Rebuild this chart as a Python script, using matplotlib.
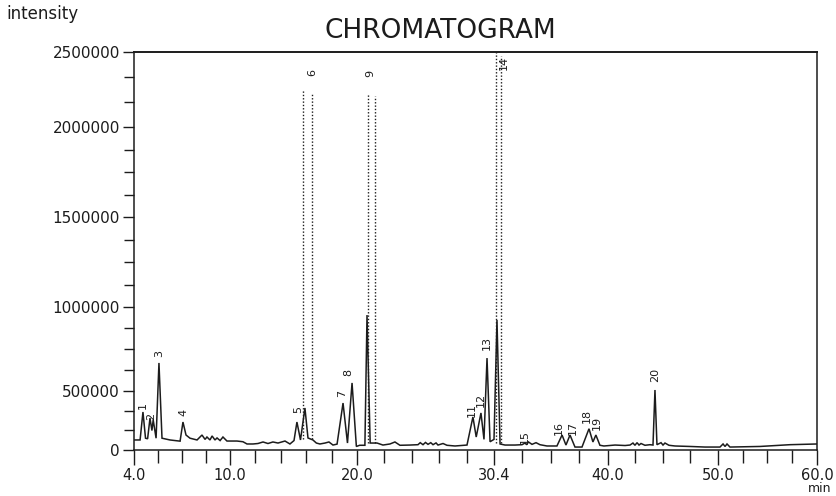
#!/usr/bin/env python3
"""Hand-drawn style chromatogram, intensity vs retention time."""

import numpy as np
import matplotlib
matplotlib.use("Agg")
import matplotlib.pyplot as plt

plt.rcParams["font.family"] = ["DejaVu Sans"]

INK = "#1c1c1c"

# ── axis calibration (the drawn axes are not evenly spaced) ─────────────
X_MAJOR = [4.0, 10.0, 20.0, 30.4, 40.0, 50.0, 60.0]
X_MAJOR_LABELS = ["4.0", "10.0", "20.0", "30.4", "40.0", "50.0", "60.0"]
X_MAJOR_POS = [134, 230, 357, 494, 608, 718, 817]
X_MINOR_SPLITS = [4, 5, 5, 4, 4, 4]

Y_MAJOR = [0, 500000, 1000000, 1500000, 2000000, 2500000]
Y_MAJOR_LABELS = ["0", "500000", "1000000", "1500000", "2000000", "2500000"]
Y_MAJOR_POS = [0, 59, 143, 233, 323, 398]
Y_MINOR_SPLITS = [3, 4, 4, 4, 3]

# ── trace (min, intensity) ──────────────────────────────────────────────
TRACE_MIN = [
    4.05, 4.38, 4.56, 4.72, 4.85, 5.0, 5.12, 5.2, 5.38, 5.56, 5.75, 6.25,
    6.88, 7.06, 7.25, 7.5, 7.94, 8.25, 8.44, 8.56, 8.75, 8.88, 9.06, 9.19,
    9.38, 9.56, 9.81, 10.55, 11.02, 11.34, 11.81, 12.2, 12.6, 12.99, 13.38,
    13.78, 14.33, 14.72, 15.04, 15.27, 15.55, 15.9, 16.14, 16.53, 16.8,
    17.08, 17.48, 17.79, 18.11, 18.43, 18.9, 19.25, 19.61, 19.95, 20.2,
    20.6, 20.76, 21.0, 21.52, 21.97, 22.5, 22.88, 23.26, 24.02, 24.63,
    24.8, 25.01, 25.2, 25.39, 25.6, 25.77, 26.0, 26.15, 26.53, 26.83,
    27.44, 28.35, 28.8, 29.05, 29.41, 29.64, 29.87, 30.1, 30.4, 30.65,
    30.91, 31.33, 32.17, 32.76, 33.01, 33.15, 33.3, 33.6, 33.94, 34.27,
    34.86, 35.7, 36.13, 36.46, 36.8, 37.22, 37.81, 38.4, 38.73, 38.98,
    39.32, 39.66, 40.64, 41.55, 42.0, 42.27, 42.45, 42.64, 42.82, 43.0,
    43.36, 43.82, 44.09, 44.27, 44.45, 44.82, 45.0, 45.18, 45.54, 46.09,
    47.45, 48.82, 50.2, 50.51, 50.71, 50.91, 51.21, 54.24, 57.27, 60.0,
]
TRACE_INT = [
    85000, 85000, 322000, 100000, 95000, 270000, 165000, 255000, 100000,
    667000, 100000, 85000, 75000, 237000, 127000, 100000, 85000, 127000,
    90000, 110000, 85000, 119000, 85000, 102000, 80000, 110000, 76000,
    76000, 70000, 51000, 51000, 55000, 68000, 55000, 68000, 59000, 76000,
    51000, 80000, 237000, 85000, 356000, 102000, 85000, 59000, 51000,
    59000, 68000, 42000, 50000, 398000, 59000, 548000, 30000, 40000,
    40000, 952000, 59000, 59000, 42000, 51000, 68000, 40000, 42000, 45000,
    62000, 45000, 64000, 48000, 62000, 45000, 60000, 42000, 55000, 40000,
    34000, 42000, 280000, 110000, 314000, 90000, 696000, 70000, 90000,
    923000, 51000, 42000, 42000, 45000, 59000, 45000, 68000, 48000, 62000,
    45000, 34000, 34000, 127000, 42000, 127000, 25000, 25000, 180000,
    68000, 127000, 40000, 34000, 42000, 38000, 42000, 59000, 40000, 62000,
    42000, 55000, 40000, 45000, 42000, 506000, 45000, 62000, 42000, 59000,
    40000, 34000, 30000, 25000, 25000, 51000, 30000, 51000, 25000, 30000,
    45000, 51000,
]

# peaks that run off the paper, drawn as dotted outlines
TALL_LEFT = [15.75, 20.83, 30.57]
TALL_RIGHT = [16.46, 21.37, 30.99]
TALL_BASE = [90000, 60000, 60000]
TALL_TOP = [2250000, 2230000, 2500000]

PEAK_LABELS = ["1", "2", "3", "4", "5", "6", "7", "8", "9", "11", "12",
               "13", "14", "15", "16", "17", "18", "19", "20"]
PEAK_LABEL_MIN = [4.56, 5.05, 5.56, 7.06, 15.35, 16.45, 18.82, 19.29, 20.99,
                  28.73, 29.41, 29.87, 31.2, 33.01, 35.85, 37.0, 38.25,
                  39.02, 44.27]
PEAK_LABEL_INT = [381000, 285000, 726000, 322000, 339000, 2360000, 483000,
                  613000, 2360000, 339000, 424000, 786000, 2430000, 110000,
                  186000, 186000, 285000, 232000, 595000]


def piecewise(src, dst):
    src = np.asarray(src, float)
    dst = np.asarray(dst, float)
    lo_slope = (dst[1] - dst[0]) / (src[1] - src[0])
    hi_slope = (dst[-1] - dst[-2]) / (src[-1] - src[-2])

    def f(v):
        v = np.asarray(v, float)
        out = np.interp(v, src, dst)
        out = np.where(v < src[0], dst[0] + (v - src[0]) * lo_slope, out)
        out = np.where(v > src[-1], dst[-1] + (v - src[-1]) * hi_slope, out)
        return out
    return f


def minor_ticks(major, splits):
    ticks = []
    for a, b, n in zip(major[:-1], major[1:], splits):
        ticks.extend(np.linspace(a, b, n + 1)[1:-1])
    return ticks


fig = plt.figure(figsize=(8.37, 4.96), dpi=100)
ax = fig.add_axes([134 / 837, 46 / 496, 683 / 837, 398 / 496])

ax.set_xscale("function", functions=(piecewise(X_MAJOR, X_MAJOR_POS),
                                     piecewise(X_MAJOR_POS, X_MAJOR)))
ax.set_yscale("function", functions=(piecewise(Y_MAJOR, Y_MAJOR_POS),
                                     piecewise(Y_MAJOR_POS, Y_MAJOR)))

ax.plot(TRACE_MIN, TRACE_INT, color=INK, lw=1.1, solid_joinstyle="miter")

for l, r, b, t in zip(TALL_LEFT, TALL_RIGHT, TALL_BASE, TALL_TOP):
    ax.plot([l, l], [b, t], color=INK, lw=1.0, ls=(0, (1, 1.4)))
    ax.plot([r, r], [b, t * 0.99], color=INK, lw=1.0, ls=(0, (1, 1.4)))

for lab, t, i in zip(PEAK_LABELS, PEAK_LABEL_MIN, PEAK_LABEL_INT):
    ax.text(t, i, lab, rotation=90, ha="center", va="center",
            fontsize=8, color=INK)

ax.set_xlim(4.0, 60.0)
ax.set_ylim(0, 2500000)

ax.set_xticks(X_MAJOR)
ax.set_xticklabels(X_MAJOR_LABELS)
ax.set_xticks(minor_ticks(X_MAJOR, X_MINOR_SPLITS), minor=True)
ax.set_yticks(Y_MAJOR)
ax.set_yticklabels(Y_MAJOR_LABELS)
ax.set_yticks(minor_ticks(Y_MAJOR, Y_MINOR_SPLITS), minor=True)

ax.tick_params(axis="x", which="major", length=11, width=1.0, pad=2,
               labelsize=10.5, colors=INK)
ax.tick_params(axis="x", which="minor", length=9, width=1.0, colors=INK)
ax.tick_params(axis="y", which="major", length=8, width=1.0, pad=2,
               labelsize=11, colors=INK)
ax.tick_params(axis="y", which="minor", length=7, width=1.0, colors=INK)
for s in ax.spines.values():
    s.set_color(INK)
    s.set_linewidth(1.1)
ax.spines["top"].set_linewidth(1.4)

fig.text(440 / 837, 1 - 31 / 496, "CHROMATOGRAM", ha="center", va="center",
         fontsize=19, color=INK)
fig.text(42 / 837, 1 - 14 / 496, "intensity", ha="center", va="center",
         fontsize=12, color=INK)
fig.text(820 / 837, 0.002, "min", ha="center", va="bottom",
         fontsize=9, color=INK)

fig.savefig("out.png", dpi=100, facecolor="white")
